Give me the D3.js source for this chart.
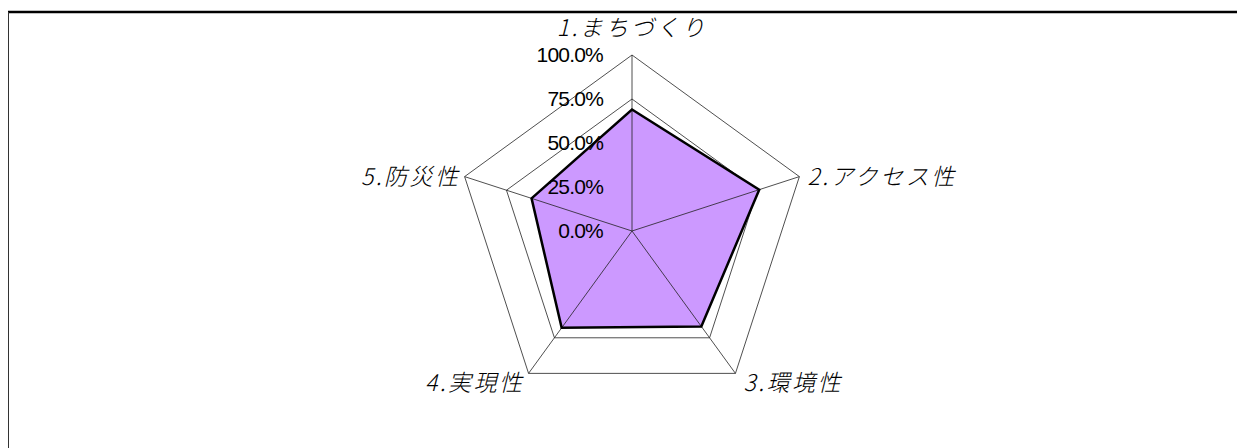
<!DOCTYPE html>
<html>
<head>
<meta charset="utf-8">
<script src="https://cdn.jsdelivr.net/npm/d3@7"></script>
<style>
  body { margin: 0; background: #fff; }
</style>
</head>
<body>
<script>
// chart data
var categories = ["1.まちづくり", "2.アクセス性", "3.環境性", "4.実現性", "5.防災性"];
var values = [0.69, 0.76, 0.67, 0.68, 0.60];
var ticks = [0, 0.25, 0.5, 0.75, 1.0];
var tickLabels = ["0.0%", "25.0%", "50.0%", "75.0%", "100.0%"];

var w = 1237, h = 448;
var cx = 632, cy = 231, R = 176;

const svg = d3.select("body").append("svg")
  .attr("width", w)
  .attr("height", h);

// frame (top + left only)
svg.append("line").attr("x1", 8).attr("x2", w).attr("y1", 12).attr("y2", 12)
  .attr("stroke", "#000").attr("stroke-width", 2.5);
svg.append("line").attr("x1", 8.5).attr("x2", 8.5).attr("y1", 12).attr("y2", h)
  .attr("stroke", "#333").attr("stroke-width", 1);

const rScale = d3.scaleLinear().domain([0, 1]).range([0, R]);
const aScale = d3.scaleLinear().domain([0, categories.length]).range([-Math.PI / 2, 1.5 * Math.PI]);

function pt(i, v) {
  var a = aScale(i);
  return [cx + rScale(v) * Math.cos(a), cy + rScale(v) * Math.sin(a)];
}

// rings
svg.selectAll(".ring")
  .data(ticks.filter(d => d > 0))
  .enter()
  .append("polygon")
  .attr("class", "ring")
  .attr("points", t => categories.map((c, i) => pt(i, t).join(",")).join(" "))
  .attr("fill", "none")
  .attr("stroke", "#222")
  .attr("stroke-width", 0.8);

// data area
svg.append("polygon")
  .attr("points", values.map((v, i) => pt(i, v).join(",")).join(" "))
  .attr("fill", "#cc99ff")
  .attr("stroke", "none");

// spokes
svg.selectAll(".spoke")
  .data(categories)
  .enter()
  .append("line")
  .attr("class", "spoke")
  .attr("x1", cx).attr("y1", cy)
  .attr("x2", (d, i) => pt(i, 1)[0])
  .attr("y2", (d, i) => pt(i, 1)[1])
  .attr("stroke", "#222")
  .attr("stroke-width", 0.8);

// data outline
svg.append("polygon")
  .attr("points", values.map((v, i) => pt(i, v).join(",")).join(" "))
  .attr("fill", "none")
  .attr("stroke", "#000")
  .attr("stroke-width", 2.5)
  .attr("stroke-linejoin", "miter");

// tick labels
svg.selectAll(".tick")
  .data(ticks)
  .enter()
  .append("text")
  .attr("class", "tick")
  .attr("x", 603)
  .attr("y", d => cy - rScale(d))
  .attr("dy", "0.35em")
  .attr("text-anchor", "end")
  .attr("font-family", "Liberation Sans, Arial, sans-serif")
  .attr("font-size", 21)
  .attr("letter-spacing", -0.8)
  .attr("fill", "#000")
  .text((d, i) => tickLabels[i]);

// category labels
svg.selectAll(".cat")
  .data(categories)
  .enter()
  .append("text")
  .attr("class", "cat")
  .attr("x", function(d, i) {
    var p = pt(i, 1), c = Math.cos(aScale(i));
    return p[0] + (c > 0.1 ? 8 : c < -0.1 ? -4 : 0);
  })
  .attr("y", function(d, i) {
    var p = pt(i, 1), s = Math.sin(aScale(i));
    return p[1] + (s < -0.9 ? -27 : s > 0.5 ? 9 : 0);
  })
  .attr("dy", "0.36em")
  .attr("text-anchor", function(d, i) {
    var c = Math.cos(aScale(i));
    return c > 0.1 ? "start" : c < -0.1 ? "end" : "middle";
  })
  .attr("font-family", "Noto Sans CJK JP, sans-serif")
  .attr("font-weight", 300)
  .attr("font-style", "italic")
  .attr("font-size", 23)
  .attr("letter-spacing", 2.5)
  .attr("fill", "#000")
  .text(d => d);
</script>
</body>
</html>
